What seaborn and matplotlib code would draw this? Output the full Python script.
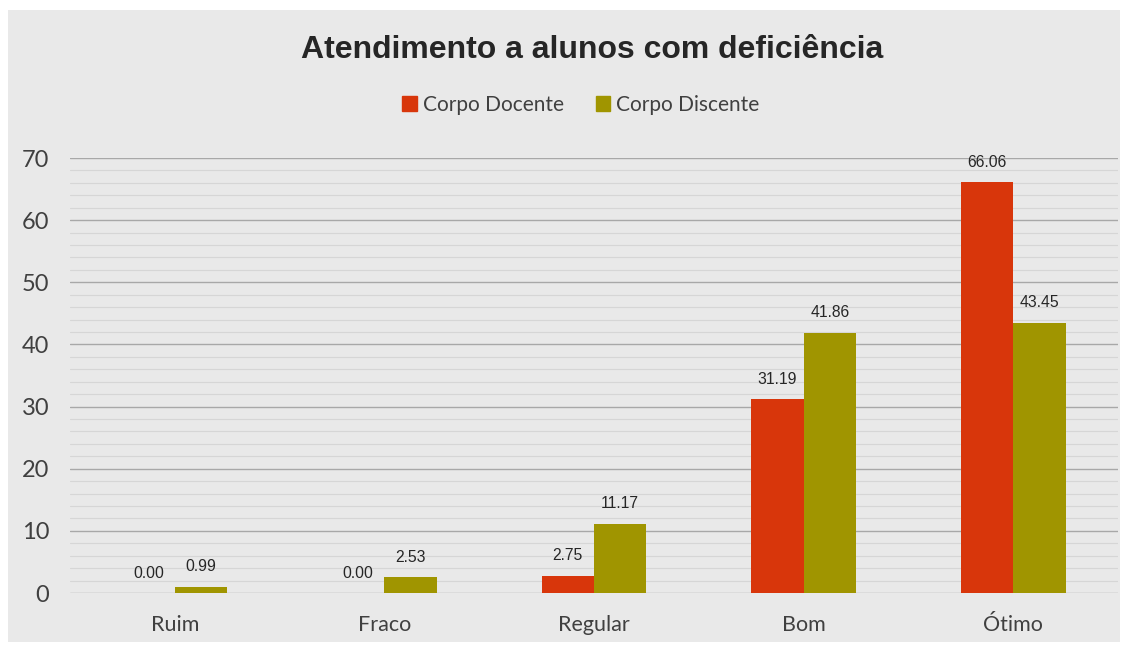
import pandas as pd
import matplotlib.pyplot as plt
import seaborn as sns
from matplotlib.patches import Rectangle
from matplotlib.ticker import MultipleLocator

# -------------------------------
# Data
# -------------------------------
categorias = ["Ruim", "Fraco", "Regular", "Bom", "Ótimo"]
docente = [0.00, 0.00, 2.75, 31.19, 66.06]
discente = [0.99, 2.53, 11.17, 41.86, 43.45]
grupos = ["Corpo Docente", "Corpo Discente"]
cores = ["#D8360B", "#A09500"]

df = pd.DataFrame({
    "categoria": categorias * 2,
    "valor": docente + discente,
    "grupo": [grupos[0]] * len(categorias) + [grupos[1]] * len(categorias),
})

# -------------------------------
# Figure
# -------------------------------
sns.set_style("white")
fig = plt.figure(figsize=(11.31, 6.45), dpi=100)
fig.patch.set_facecolor("white")
fig.patches.append(Rectangle((8 / 1131, 3 / 645), 1112 / 1131, 632 / 645,
                             transform=fig.transFigure, facecolor="#E9E9E9",
                             edgecolor="none", zorder=-10))

ax = fig.add_axes([70 / 1131, 52 / 645, 1048 / 1131, 435 / 645])
ax.set_facecolor("none")

sns.barplot(data=df, x="categoria", y="valor", hue="grupo", palette=cores,
            width=0.5, saturation=1, linewidth=0, edgecolor="none",
            ax=ax, zorder=3)

for cont in ax.containers:
    ax.bar_label(cont, fmt="%.2f", padding=9, fontsize=11.3,
                 family="Liberation Sans", color="#262626")

ax.set_ylim(0, 70)
ax.yaxis.set_major_locator(MultipleLocator(10))
ax.yaxis.set_minor_locator(MultipleLocator(2))
ax.grid(axis="y", which="major", color="#A8A8A8", linewidth=1, zorder=0)
ax.grid(axis="y", which="minor", color="#D6D6D6", linewidth=0.8, zorder=0)
ax.set_axisbelow(True)
for s in ax.spines.values():
    s.set_visible(False)
ax.tick_params(axis="both", which="both", length=0)
ax.tick_params(axis="y", pad=15, labelsize=17, labelcolor="#404040")
ax.tick_params(axis="x", pad=16, labelsize=15.5, labelcolor="#404040")
for lbl in ax.get_xticklabels() + ax.get_yticklabels():
    lbl.set_family("Lato")
ax.set_xlabel("")
ax.set_ylabel("")

ax.legend_.remove()
handles = [Rectangle((0, 0), 1, 1, color=c) for c in cores]
fig.legend(handles, grupos, loc="center", bbox_to_anchor=(581 / 1131, 1 - 105 / 645),
           ncol=2, frameon=False, handlelength=0.7, handleheight=0.7,
           handletextpad=0.3, columnspacing=1.5,
           prop={"family": "Lato", "size": 15})
for t in fig.legends[0].get_texts():
    t.set_color("#404040")

fig.text(592 / 1131, 1 - 50 / 645, "Atendimento a alunos com deficiência",
         ha="center", va="center", fontsize=23, fontweight="bold",
         family="Liberation Sans", color="#262626")

plt.savefig("out.png", dpi=100)
